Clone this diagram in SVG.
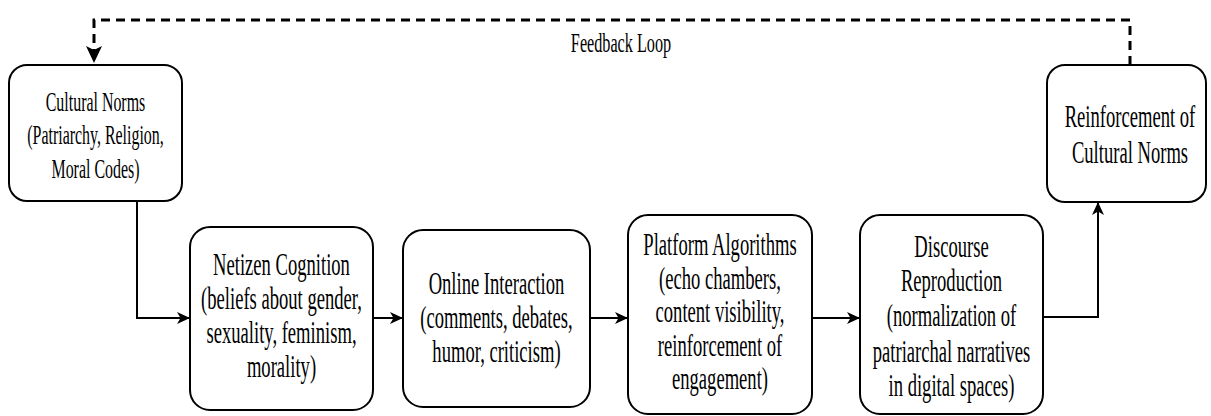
<svg xmlns="http://www.w3.org/2000/svg" width="1211" height="416" viewBox="0 0 1211 416">
<style>
.box{fill:#fff;stroke:#000;stroke-width:2}
.t{font-family:"Liberation Serif","Times New Roman",serif;fill:#000;text-anchor:middle}
.lg{font-size:31px}
.sm{font-size:27px}
.c{fill:none;stroke:#000;stroke-width:2}
.fb{fill:none;stroke:#000;stroke-width:3;stroke-dasharray:9 6}
</style>
<defs>
<marker id="ar" markerUnits="userSpaceOnUse" markerWidth="14" markerHeight="14" viewBox="0 0 14 14" refX="13" refY="7" orient="auto">
<path d="M0,1 L13,7 L0,13 L3.5,7 z" fill="#000"/>
</marker>
<marker id="arb" markerUnits="userSpaceOnUse" markerWidth="18" markerHeight="18" viewBox="0 0 18 18" refX="17" refY="9" orient="auto">
<path d="M0,1 L17,9 L0,17 L4,9 z" fill="#000"/>
</marker>
</defs>
<g id="connectors">
<path class="fb" d="M1130,65 V20 H94 V63" marker-end="url(#arb)"/>
<text class="t sm" transform="translate(621 0) scale(0.6 1)" x="0" y="52">Feedback Loop</text>
<path class="c" d="M137,201 V318 H190" marker-end="url(#ar)"/>
<path class="c" d="M373,318 H403" marker-end="url(#ar)"/>
<path class="c" d="M590,318 H628" marker-end="url(#ar)"/>
<path class="c" d="M812,318 H860" marker-end="url(#ar)"/>
<path class="c" d="M1043,317 H1098 V202" marker-end="url(#ar)"/>
</g>
<g id="node-cultural-norms">
<rect class="box" x="9" y="65" width="173" height="136" rx="18"/>
<text class="t sm" transform="translate(95.5 0) scale(0.59 1)"><tspan x="0" y="111">Cultural Norms</tspan><tspan x="0" y="144">(Patriarchy, Religion,</tspan><tspan x="0" y="178">Moral Codes)</tspan></text>
</g>
<g id="node-netizen-cognition">
<rect class="box" x="190" y="227" width="183" height="183" rx="20"/>
<text class="t lg" transform="translate(281.5 0) scale(0.6 1)"><tspan x="0" y="275">Netizen Cognition</tspan><tspan x="0" y="309">(beliefs about gender,</tspan><tspan x="0" y="343">sexuality, feminism,</tspan><tspan x="0" y="377">morality)</tspan></text>
</g>
<g id="node-online-interaction">
<rect class="box" x="403" y="230" width="187" height="177" rx="20"/>
<text class="t lg" transform="translate(496.5 0) scale(0.6 1)"><tspan x="0" y="294">Online Interaction</tspan><tspan x="0" y="328">(comments, debates,</tspan><tspan x="0" y="362">humor, criticism)</tspan></text>
</g>
<g id="node-platform-algorithms">
<rect class="box" x="628" y="215" width="184" height="199" rx="20"/>
<text class="t lg" transform="translate(720 0) scale(0.6 1)"><tspan x="0" y="255">Platform Algorithms</tspan><tspan x="0" y="289">(echo chambers,</tspan><tspan x="0" y="322">content visibility,</tspan><tspan x="0" y="356">reinforcement of</tspan><tspan x="0" y="389">engagement)</tspan></text>
</g>
<g id="node-discourse-reproduction">
<rect class="box" x="860" y="215" width="183" height="199" rx="20"/>
<text class="t lg" transform="translate(951.5 0) scale(0.6 1)"><tspan x="0" y="257">Discourse</tspan><tspan x="0" y="291">Reproduction</tspan><tspan x="0" y="326">(normalization of</tspan><tspan x="0" y="362">patriarchal narratives</tspan><tspan x="0" y="396">in digital spaces)</tspan></text>
</g>
<g id="node-reinforcement">
<rect class="box" x="1047" y="65" width="159" height="137" rx="18"/>
<text class="t lg" transform="translate(1130 0) scale(0.6 1)"><tspan x="0" y="127">Reinforcement of</tspan><tspan x="0" y="163">Cultural Norms</tspan></text>
</g>
</svg>
